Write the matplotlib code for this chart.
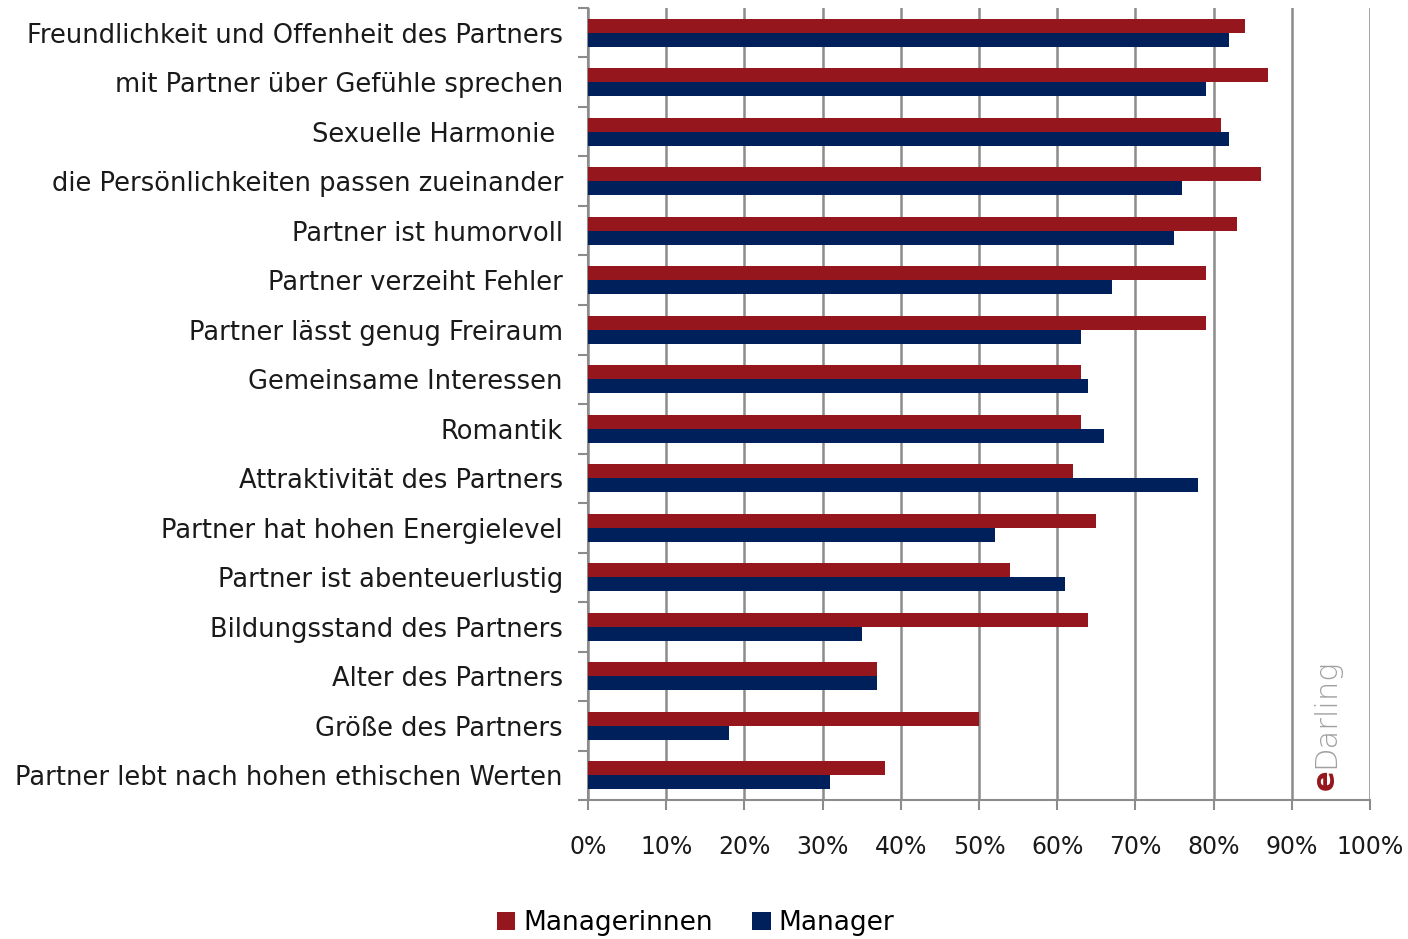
import numpy as np
import matplotlib.pyplot as plt

# %% data
categories = [
    "Freundlichkeit und Offenheit des Partners",
    "mit Partner über Gefühle sprechen",
    "Sexuelle Harmonie ",
    "die Persönlichkeiten passen zueinander",
    "Partner ist humorvoll",
    "Partner verzeiht Fehler",
    "Partner lässt genug Freiraum",
    "Gemeinsame Interessen",
    "Romantik",
    "Attraktivität des Partners",
    "Partner hat hohen Energielevel",
    "Partner ist abenteuerlustig",
    "Bildungsstand des Partners",
    "Alter des Partners",
    "Größe des Partners",
    "Partner lebt nach hohen ethischen Werten",
]
managerinnen = [84, 87, 81, 86, 83, 79, 79, 63, 63, 62, 65, 54, 64, 37, 50, 38]
manager = [82, 79, 82, 76, 75, 67, 63, 64, 66, 78, 52, 61, 35, 37, 18, 31]
xticks = list(range(0, 101, 10))

# %% colours
cRed = "#95161c"
cBlue = "#00205c"
cGrid = "#8c8c8c"

plt.rcParams['font.family'] = ['DejaVu Sans']

fig = plt.figure(figsize=(14.08, 9.39), dpi=100)
ax = fig.add_axes([0.4176, 0.148, 0.5554, 0.8435])

n = len(categories)
y = np.arange(n)
h = 0.28
ax.barh(y - h / 2, managerinnen, height=h, color=cRed, label="Managerinnen", zorder=3)
ax.barh(y + h / 2, manager, height=h, color=cBlue, label="Manager", zorder=3)

ax.set_ylim(n - 0.5, -0.5)
ax.set_xlim(0, 100)
ax.set_xticks(xticks)
ax.set_xticklabels([f"{t}%" for t in xticks], fontsize=17, color="#1a1a1a")
ax.set_yticks(y)
ax.set_yticklabels(categories, fontsize=18.5, color="#1a1a1a")
ax.set_yticks(np.arange(-0.5, n, 1), minor=True)
ax.tick_params(axis='y', which='major', length=0, pad=18)
ax.tick_params(axis='y', which='minor', length=7, width=1.5, color=cGrid)
ax.tick_params(axis='x', which='major', length=7, width=1.5, color=cGrid, pad=18)

ax.grid(axis='x', color=cGrid, linewidth=1.8, zorder=0)
for s in ['top', 'right']:
    ax.spines[s].set_visible(False)
for s in ['left', 'bottom']:
    ax.spines[s].set_color(cGrid)
    ax.spines[s].set_linewidth(1.5)

# watermark
ax.text(94.3, 15.3, "e", rotation=90, color=cRed, fontsize=22, fontweight='bold',
        ha='center', va='bottom', zorder=4)
ax.text(94.3, 14.86, "Darling", rotation=90, color="#a0a0a0", fontsize=22,
        fontweight='light', ha='center', va='bottom', zorder=4)

fig.legend(loc='center', bbox_to_anchor=(0.494, 0.017), ncol=2, frameon=False,
           fontsize=19, handlelength=0.7, handleheight=0.7, handletextpad=0.3,
           columnspacing=1.5)

fig.savefig("out.png", dpi=100)
